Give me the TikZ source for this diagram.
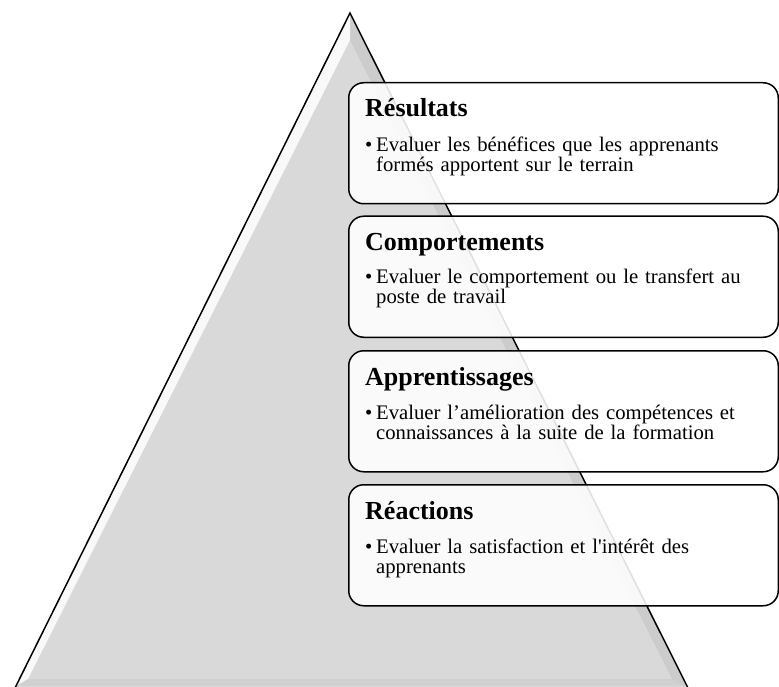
\documentclass[tikz,border=0pt]{standalone}
\usepackage{fontspec}
\setmainfont{Liberation Serif}[Ligatures=TeXOff]
\definecolor{trifill}{HTML}{D9D9D9}
\begin{document}
\begin{tikzpicture}[x=1pt,y=-1pt,
  box/.style={draw=black, line width=1.5pt, fill=white, fill opacity=0.88,
    rounded corners=15pt, minimum width=429.5pt, minimum height=121pt,
    inner sep=0pt, anchor=north west},
  ttl/.style={anchor=base west, inner sep=0pt, font={\fontsize{26}{30}\selectfont\bfseries}},
  bul/.style={anchor=base west, inner sep=0pt, font={\fontsize{20.7}{20}\selectfont}},
  body/.style={anchor=base west, inner sep=0pt, text width=395pt, align=left,
    font={\fontsize{20.7}{20}\selectfont}}]
\useasboundingbox (0,0) rectangle (779,687);
\begin{scope}
\clip (0,0) rectangle (779,687);
% triangle
\fill[trifill] (350,13) -- (14,690) -- (688,690) -- cycle;
\fill[white, opacity=0.85] (350,14) -- (16,686) -- (28,679) -- (350,40) -- cycle;
\fill[black, opacity=0.06] (350,14) -- (686,686) -- (672,679) -- (350,40) -- cycle;
\fill[black, opacity=0.04] (16,686) -- (686,686) -- (672,679) -- (28,679) -- cycle;
\coordinate (bl) at (14,690);
\coordinate (ap) at (350,13);
\coordinate (br) at (689,690);
\draw[line width=1.5pt, line join=miter] (bl) -- (ap) -- (br);
% boxes
\node[box] (b1) at (348,82) {};
\node[box] (b2) at (348,215.5) {};
\node[box] (b3) at (348,350) {};
\node[box] (b4) at (348,484) {};
\end{scope}
% texts
\node[ttl] (t1) at ([xshift=17pt,yshift=-35pt]b1.north west) {Résultats};
\node[bul] (u1) at ([xshift=17pt,yshift=-70pt]b1.north west) {•};
\node[body] (d1) at ([xshift=28pt,yshift=-70pt]b1.north west) {Evaluer les bénéfices que les apprenants\\formés apportent sur le terrain};

\node[ttl] (t2) at ([xshift=17pt,yshift=-35pt]b2.north west) {Comportements};
\node[bul] (u2) at ([xshift=17pt,yshift=-68pt]b2.north west) {•};
\node[body] (d2) at ([xshift=28pt,yshift=-68pt]b2.north west) {Evaluer le comportement ou le transfert au\\poste de travail};

\node[ttl] (t3) at ([xshift=17pt,yshift=-35pt]b3.north west) {Apprentissages};
\node[bul] (u3) at ([xshift=17pt,yshift=-69pt]b3.north west) {•};
\node[body] (d3) at ([xshift=28pt,yshift=-69pt]b3.north west) {Evaluer l’amélioration des compétences et\\connaissances à la suite de la formation};

\node[ttl] (t4) at ([xshift=17pt,yshift=-35pt]b4.north west) {Réactions};
\node[bul] (u4) at ([xshift=17pt,yshift=-69pt]b4.north west) {•};
\node[body] (d4) at ([xshift=28pt,yshift=-69pt]b4.north west) {Evaluer la satisfaction et l'intérêt des\\apprenants};
\end{tikzpicture}
\end{document}
